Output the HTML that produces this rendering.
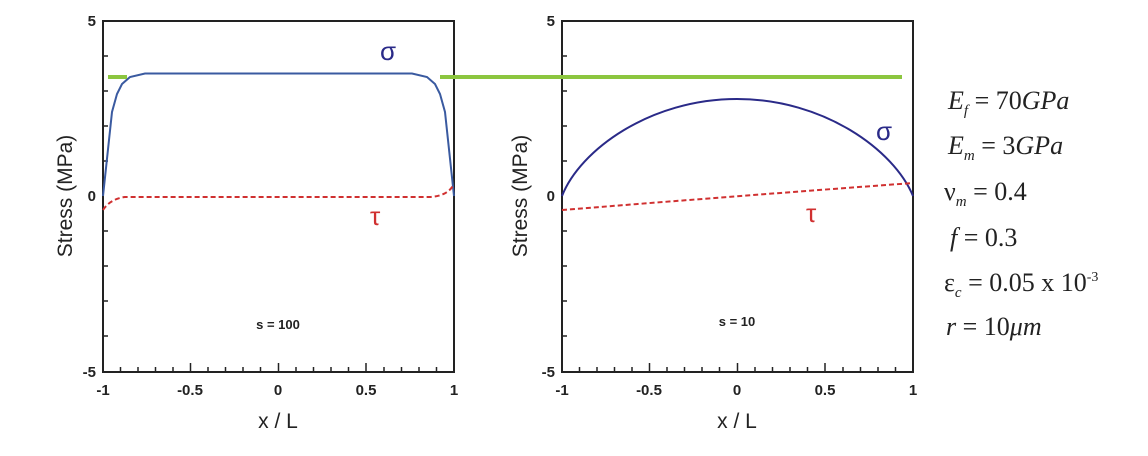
<!DOCTYPE html>
<html><head><style>
body{margin:0;background:#fff;}
svg text{font-family:"Liberation Sans",sans-serif;}
.s{font-family:"Liberation Serif",serif;font-size:26px;fill:#222;font-style:normal;}
.i{font-style:italic;}
</style></head><body>
<svg width="1148" height="451" xmlns="http://www.w3.org/2000/svg">
<g id="L">
<rect x="103" y="21" width="351" height="351" fill="none" stroke="#222" stroke-width="2"/>
<g stroke="#222" stroke-width="1.5">
<path d="M103 56h5M103 91h5M103 126h5M103 161h5M103 231h5M103 266h5M103 301h5M103 336h5"/>
<path d="M120.5 372v-5M138 372v-5M155.5 372v-5M173 372v-5M208 372v-5M225.5 372v-5M243 372v-5M260.5 372v-5M296 372v-5M313.5 372v-5M331 372v-5M348.5 372v-5M384 372v-5M401.5 372v-5M419 372v-5M436.5 372v-5M190.5 372v-9M278.5 372v-9M366 372v-9"/>
</g>
<g font-size="15" font-weight="bold" fill="#222">
<text x="96" y="26" text-anchor="end">5</text><text x="96" y="201" text-anchor="end">0</text><text x="96" y="377" text-anchor="end">-5</text>
<text x="103" y="395" text-anchor="middle">-1</text><text x="190" y="395" text-anchor="middle">-0.5</text><text x="278" y="395" text-anchor="middle">0</text><text x="366" y="395" text-anchor="middle">0.5</text><text x="454" y="395" text-anchor="middle">1</text>
<text x="278" y="329" text-anchor="middle" font-size="13">s = 100</text>
</g>
<text x="278" y="428" text-anchor="middle" font-size="21" fill="#222">x / L</text>
<text transform="translate(72,196) rotate(-90)" text-anchor="middle" font-size="21" fill="#222">Stress (MPa)</text>
<path d="M103 196 L109 140 L112 112 L117 94 L122 84 L130 77 L145 73.5 L412 73.5 L427 77 L435 84 L440 94 L445 112 L448 140 L454 196" fill="none" stroke="#3a5aa0" stroke-width="2"/>
<path d="M103 210 Q110 199 125 197 L430 197 Q448 196 454 184" fill="none" stroke="#d03030" stroke-width="2" stroke-dasharray="5,3"/>
<text x="380" y="60" font-size="26" fill="#2a2a88" font-family="Liberation Serif,serif">σ</text>
<text x="370" y="225" font-size="26" fill="#d03030" font-family="Liberation Serif,serif">τ</text>
</g>
<g id="R">
<rect x="562" y="21" width="351" height="351" fill="none" stroke="#222" stroke-width="2"/>
<g stroke="#222" stroke-width="1.5">
<path d="M562 56h5M562 91h5M562 126h5M562 161h5M562 231h5M562 266h5M562 301h5M562 336h5"/>
<path d="M579.5 372v-5M597 372v-5M614.5 372v-5M632 372v-5M667 372v-5M684.5 372v-5M702 372v-5M719.5 372v-5M755 372v-5M772.5 372v-5M790 372v-5M807.5 372v-5M843 372v-5M860.5 372v-5M878 372v-5M895.5 372v-5M649.5 372v-9M737.5 372v-9M825 372v-9"/>
</g>
<g font-size="15" font-weight="bold" fill="#222">
<text x="555" y="26" text-anchor="end">5</text><text x="555" y="201" text-anchor="end">0</text><text x="555" y="377" text-anchor="end">-5</text>
<text x="562" y="395" text-anchor="middle">-1</text><text x="649" y="395" text-anchor="middle">-0.5</text><text x="737" y="395" text-anchor="middle">0</text><text x="825" y="395" text-anchor="middle">0.5</text><text x="913" y="395" text-anchor="middle">1</text>
<text x="737" y="326" text-anchor="middle" font-size="13">s = 10</text>
</g>
<text x="737" y="428" text-anchor="middle" font-size="21" fill="#222">x / L</text>
<text transform="translate(527,196) rotate(-90)" text-anchor="middle" font-size="21" fill="#222">Stress (MPa)</text>
<path d="M562 196 C580 150 650 99 737 99 C824 99 894 150 913 196" fill="none" stroke="#2a2a88" stroke-width="2"/>
<path d="M562 210 Q737 196 913 183" fill="none" stroke="#d03030" stroke-width="2" stroke-dasharray="5,3"/>
<text x="876" y="140" font-size="26" fill="#2a2a88" font-family="Liberation Serif,serif">σ</text>
<text x="806" y="222" font-size="26" fill="#d03030" font-family="Liberation Serif,serif">τ</text>
</g>
<path d="M108 77H127M440 77H902" stroke="#8cc63f" stroke-width="4"/>
<text x="948" y="109" class="s"><tspan class="i">E</tspan><tspan font-size="15" dy="6" class="i">f</tspan><tspan dy="-6"> = 70</tspan><tspan class="i">GPa</tspan></text>
<text x="948" y="154" class="s"><tspan class="i">E</tspan><tspan font-size="15" dy="6" class="i">m</tspan><tspan dy="-6"> = 3</tspan><tspan class="i">GPa</tspan></text>
<text x="944" y="200" class="s">ν<tspan font-size="15" dy="6" class="i">m</tspan><tspan dy="-6"> = 0.4</tspan></text>
<text x="950" y="246" class="s"><tspan class="i">f</tspan> = 0.3</text>
<text x="944" y="291" class="s">ε<tspan font-size="15" dy="6" class="i">c</tspan><tspan dy="-6"> = 0.05  x 10</tspan><tspan font-size="14" dy="-10">-3</tspan></text>
<text x="946" y="335" class="s"><tspan class="i">r</tspan> = 10<tspan class="i">μm</tspan></text>
</svg>
</body></html>
